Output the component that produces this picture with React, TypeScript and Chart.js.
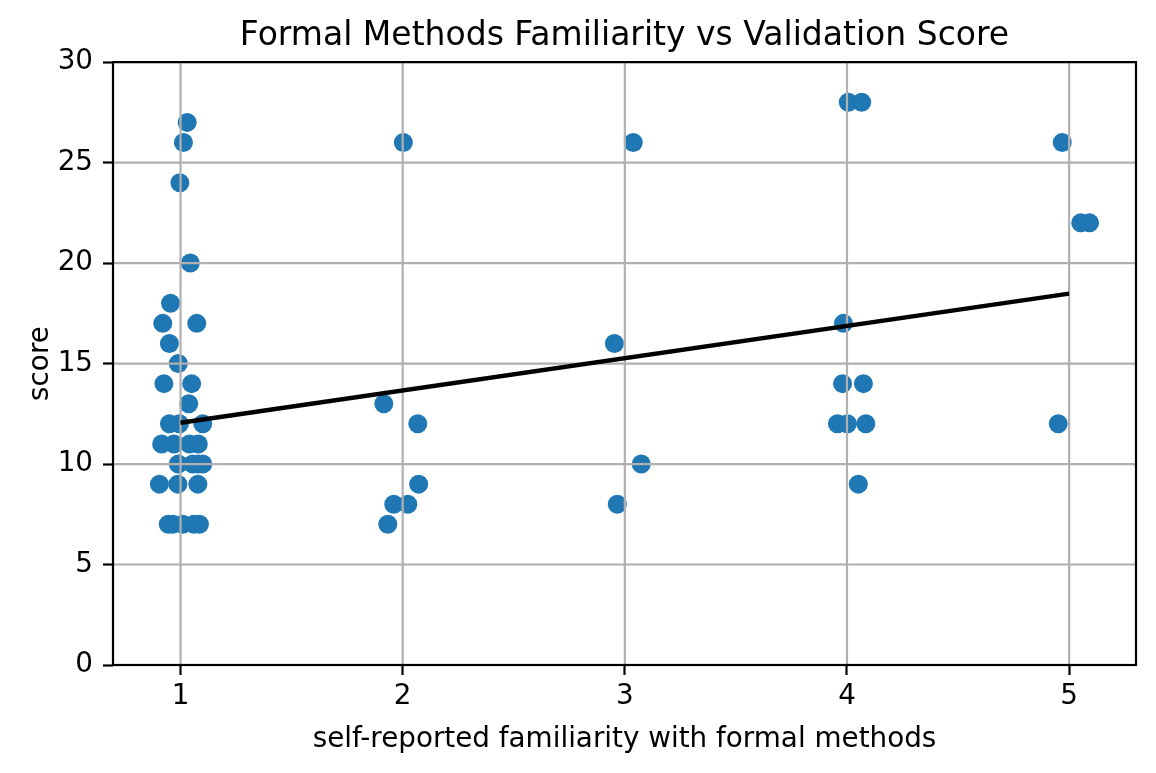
import React, { useEffect, useRef } from "react";
import { Chart, registerables } from "chart.js";

Chart.register(...registerables);

const TITLE = "Formal Methods Familiarity vs Validation Score";
const X_LABEL = "self-reported familiarity with formal methods";
const Y_LABEL = "score";

const familiarity: number[] = [
  0.955, 0.92, 1.073, 0.95, 0.99, 0.925, 1.05, 1.037, 0.95, 0.995, 1.1,
  0.915, 0.97, 1.04, 1.08, 0.99, 1.055, 1.08, 1.1, 0.905, 0.988, 1.078,
  0.945, 0.965, 1.01, 1.06, 1.085, 1.03, 1.013, 0.997, 1.044,
  2.003, 1.915, 2.068, 2.072, 1.96, 2.023, 1.933,
  2.953, 3.038, 3.074, 2.966,
  4.006, 4.066, 3.984, 3.98, 4.074, 3.957, 4.002, 4.085, 4.051,
  4.969, 5.052, 5.092, 4.951,
];
const scores: number[] = [
  18, 17, 17, 16, 15, 14, 14, 13, 12, 12, 12,
  11, 11, 11, 11, 10, 10, 10, 10, 9, 9, 9,
  7, 7, 7, 7, 7, 27, 26, 24, 20,
  26, 13, 12, 9, 8, 8, 7,
  16, 26, 10, 8,
  28, 28, 17, 14, 14, 12, 12, 12, 9,
  26, 22, 22, 12,
];
const fitX: number[] = [1, 5];
const fitY: number[] = [12.05, 18.48];
const xTicks: number[] = [1, 2, 3, 4, 5];
const yTicks: number[] = [0, 5, 10, 15, 20, 25, 30];

const FONT = "DejaVu Sans";

const gridFramePlugin = {
  id: "gridFrame",
  afterDatasetDraw(chart: any, args: any) {
    if (args.index !== 0) return;
    const { ctx, chartArea } = chart;
    const xs = chart.scales.x;
    const ys = chart.scales.y;
    ctx.save();
    ctx.strokeStyle = "#b0b0b0";
    ctx.lineWidth = 2.2;
    ctx.beginPath();
    xTicks.forEach((v) => {
      const px = xs.getPixelForValue(v);
      ctx.moveTo(px, chartArea.top);
      ctx.lineTo(px, chartArea.bottom);
    });
    yTicks.forEach((v) => {
      const py = ys.getPixelForValue(v);
      ctx.moveTo(chartArea.left, py);
      ctx.lineTo(chartArea.right, py);
    });
    ctx.stroke();
    ctx.restore();
  },
  afterDatasetsDraw(chart: any) {
    const { ctx, chartArea } = chart;
    ctx.save();
    ctx.strokeStyle = "#000";
    ctx.lineWidth = 2.2;
    ctx.strokeRect(
      chartArea.left,
      chartArea.top,
      chartArea.right - chartArea.left,
      chartArea.bottom - chartArea.top
    );
    ctx.restore();
  },
};

export default function App() {
  const ref = useRef<HTMLCanvasElement | null>(null);
  useEffect(() => {
    document.body.style.margin = "0";
    if (!ref.current) return;
    const points = familiarity.map((x, i) => ({ x, y: scores[i] }));
    const fit = fitX.map((x, i) => ({ x, y: fitY[i] }));
    const chart = new Chart(ref.current, {
      type: "scatter",
      data: {
        datasets: [
          {
            type: "scatter",
            data: points,
            backgroundColor: "#1f77b4",
            borderWidth: 0,
            pointRadius: 9.5,
            pointHoverRadius: 9.5,
            order: 2,
          } as any,
          {
            type: "line",
            data: fit,
            borderColor: "#000",
            borderWidth: 4.5,
            pointRadius: 0,
            fill: false,
            order: 1,
          } as any,
        ],
      },
      options: {
        animation: false,
        responsive: false,
        devicePixelRatio: 1,
        layout: { padding: { left: 0, right: 20, top: 0, bottom: 0 } },
        plugins: {
          legend: { display: false },
          tooltip: { enabled: false },
          title: {
            display: true,
            text: TITLE,
            fullSize: false,
            color: "#000",
            font: { family: FONT, size: 33, weight: "normal" },
            padding: { top: 17, bottom: 5.5 },
          } as any,
        },
        scales: {
          x: {
            type: "linear",
            min: 0.696,
            max: 5.301,
            afterBuildTicks: (s: any) => {
              s.ticks = xTicks.map((v) => ({ value: v }));
            },
            afterFit: (s: any) => {
              s.height = 108;
            },
            ticks: {
              color: "#000",
              padding: 5,
              font: { family: FONT, size: 27.8 },
              callback: (v: any) => String(v),
            },
            grid: {
              drawOnChartArea: false,
              drawTicks: true,
              tickLength: 10,
              tickColor: "#000",
              tickWidth: 2.2,
            } as any,
            border: { display: false },
            title: {
              display: true,
              text: X_LABEL,
              color: "#000",
              font: { family: FONT, size: 27.8 },
              padding: { top: 0, bottom: 17 },
            },
          },
          y: {
            type: "linear",
            min: 0,
            max: 30,
            afterBuildTicks: (s: any) => {
              s.ticks = yTicks.map((v) => ({ value: v }));
            },
            afterFit: (s: any) => {
              s.width = 113;
            },
            ticks: {
              color: "#000",
              padding: 10,
              font: { family: FONT, size: 27.8 },
              callback: (v: any) => String(v),
            },
            grid: {
              drawOnChartArea: false,
              drawTicks: true,
              tickLength: 10,
              tickColor: "#000",
              tickWidth: 2.2,
            } as any,
            border: { display: false },
            title: {
              display: true,
              text: Y_LABEL,
              color: "#000",
              font: { family: FONT, size: 27.8 },
              padding: { top: 24, bottom: 0 },
            },
          },
        },
      },
      plugins: [gridFramePlugin],
    });
    return () => chart.destroy();
  }, []);
  return (
    <div style={{ position: "absolute", left: 0, top: 0, width: 1156, height: 773 }}>
      <canvas ref={ref} width={1156} height={773} style={{ width: 1156, height: 773 }} />
    </div>
  );
}
